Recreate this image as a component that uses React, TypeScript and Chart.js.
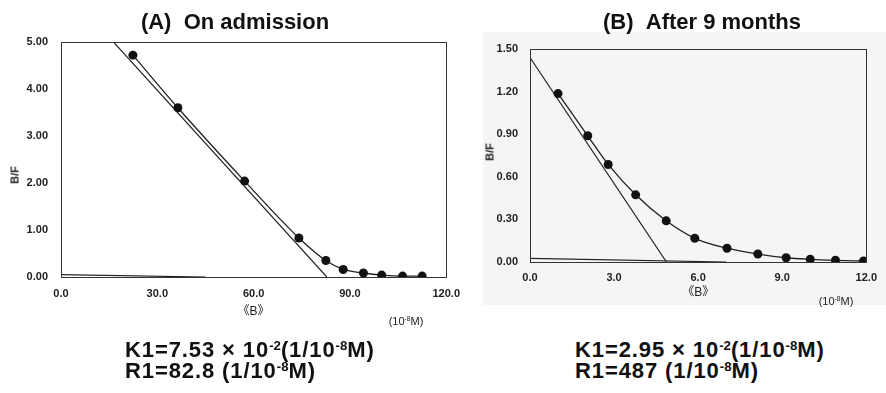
import React, { useEffect, useRef } from "react";
import { Chart, registerables } from "chart.js";
Chart.register(...registerables);

// ---- Panel A: On admission ----
const bA = [22.4, 36.4, 57.2, 74.1, 82.5, 87.9, 94.2, 99.9, 106.4, 112.5];
const bfA = [4.72, 3.6, 2.04, 0.83, 0.35, 0.16, 0.085, 0.04, 0.02, 0.02];
const fitA1X = [0, 82.8];
const fitA1Y = [6.23, 0];
const fitA2X = [0, 45];
const fitA2Y = [0.05, 0];
const xTicksA = [0, 30, 60, 90, 120];
const yTicksA = [0, 1, 2, 3, 4, 5];

// ---- Panel B: After 9 months ----
const bB = [1.0, 2.06, 2.79, 3.77, 4.86, 5.88, 7.03, 8.13, 9.14, 10.0, 10.9, 11.9];
const bfB = [1.186, 0.889, 0.687, 0.473, 0.29, 0.167, 0.097, 0.056, 0.03, 0.019, 0.012, 0.007];
const fitB1X = [0, 4.87];
const fitB1Y = [1.44, 0];
const fitB2X = [0, 7];
const fitB2Y = [0.026, 0];
const xTicksB = [0, 3, 6, 9, 12];
const yTicksB = [0, 0.3, 0.6, 0.9, 1.2, 1.5];

const pts = (xs: number[], ys: number[]) => xs.map((x, i) => ({ x, y: ys[i] }));

const INK = "#222";

const framePlugin = {
  id: "frame",
  afterDraw(chart: any) {
    const { ctx, chartArea } = chart;
    const l = Math.round(chartArea.left) + 0.5;
    const t = Math.round(chartArea.top) + 0.5;
    const r = Math.round(chartArea.right) + 0.5;
    const b = Math.round(chartArea.bottom) + 0.5;
    ctx.save();
    ctx.strokeStyle = "#333";
    ctx.lineWidth = 1;
    ctx.strokeRect(l, t, r - l, b - t);
    ctx.restore();
  },
};

type P = {
  bx: number[]; by: number[];
  f1x: number[]; f1y: number[];
  f2x: number[]; f2y: number[];
  xt: number[]; yt: number[];
  xmax: number; ymax: number;
  xdec: number;
  yW: number; xH: number;
  pad: { left: number; top: number; right: number; bottom: number };
  xTitlePad: number;
  yTickPad: number; xTickPad: number;
};

function makeConfig(p: P): any {
  const tickFont = { family: "Arial, 'Liberation Sans', sans-serif", size: 11, weight: "bold" as const };
  return {
    type: "scatter",
    data: {
      datasets: [
        {
          data: pts(p.bx, p.by),
          showLine: true,
          borderColor: INK,
          backgroundColor: "#111",
          borderWidth: 1.3,
          pointRadius: 4.5,
          pointBorderWidth: 0,
          cubicInterpolationMode: "monotone",
        },
        {
          data: pts(p.f1x, p.f1y),
          showLine: true,
          borderColor: INK,
          borderWidth: 1.2,
          pointRadius: 0,
        },
        {
          data: pts(p.f2x, p.f2y),
          showLine: true,
          borderColor: INK,
          borderWidth: 1.2,
          pointRadius: 0,
        },
      ],
    },
    options: {
      responsive: false,
      animation: false,
      devicePixelRatio: 1,
      layout: { padding: p.pad },
      plugins: { legend: { display: false }, tooltip: { enabled: false }, title: { display: false } },
      scales: {
        x: {
          type: "linear",
          min: 0,
          max: p.xmax,
          afterBuildTicks: (s: any) => { s.ticks = p.xt.map((v) => ({ value: v })); },
          afterFit: (s: any) => { s.height = p.xH; },
          grid: { display: false, drawTicks: false },
          border: { display: true, color: "#333", width: 1 },
          ticks: {
            color: INK,
            font: tickFont,
            padding: p.xTickPad,
            maxRotation: 0,
            autoSkip: false,
            callback: (v: any) => Number(v).toFixed(p.xdec),
          },
          title: {
            display: true,
            text: "《B》",
            color: INK,
            font: { family: "Arial, 'Noto Sans CJK JP', sans-serif", size: 12 },
            padding: { top: 0, bottom: p.xTitlePad },
          },
        },
        y: {
          type: "linear",
          min: 0,
          max: p.ymax,
          afterBuildTicks: (s: any) => { s.ticks = p.yt.map((v) => ({ value: v })); },
          afterFit: (s: any) => { s.width = p.yW; },
          grid: { display: false, drawTicks: false },
          border: { display: true, color: "#333", width: 1 },
          ticks: {
            color: INK,
            font: tickFont,
            padding: p.yTickPad,
            autoSkip: false,
            callback: (v: any) => Number(v).toFixed(2),
          },
          title: { display: false },
        },
      },
    },
    plugins: [framePlugin],
  };
}

function ChartCanvas({ cfg, left, top, width, height }: { cfg: any; left: number; top: number; width: number; height: number }) {
  const ref = useRef<HTMLCanvasElement | null>(null);
  useEffect(() => {
    if (!ref.current) return;
    const chart = new Chart(ref.current, cfg);
    return () => chart.destroy();
  }, []);
  return (
    <canvas
      ref={ref}
      width={width}
      height={height}
      style={{ position: "absolute", left, top, width, height }}
    />
  );
}

const cfgA = makeConfig({
  bx: bA, by: bfA, f1x: fitA1X, f1y: fitA1Y, f2x: fitA2X, f2y: fitA2Y,
  xt: xTicksA, yt: yTicksA, xmax: 120, ymax: 5, xdec: 1,
  yW: 61, xH: 53,
  pad: { left: 0, top: 42, right: 19, bottom: 0 },
  xTitlePad: 11, yTickPad: 13, xTickPad: 10,
});

const cfgB = makeConfig({
  bx: bB, by: bfB, f1x: fitB1X, f1y: fitB1Y, f2x: fitB2X, f2y: fitB2Y,
  xt: xTicksB, yt: yTicksB, xmax: 12, ymax: 1.5, xdec: 1,
  yW: 60, xH: 68,
  pad: { left: 0, top: 49, right: 6, bottom: 0 },
  xTitlePad: 30, yTickPad: 12, xTickPad: 9,
});

const titleStyle: React.CSSProperties = {
  position: "absolute",
  fontFamily: "Arial, 'Liberation Sans', sans-serif",
  fontWeight: "bold",
  fontSize: 22,
  lineHeight: "22px",
  color: "#111",
  whiteSpace: "nowrap",
  transform: "translateX(-50%)",
};

const formulaStyle: React.CSSProperties = {
  position: "absolute",
  fontFamily: "Arial, 'Liberation Sans', sans-serif",
  fontWeight: "bold",
  fontSize: 22,
  lineHeight: "22px",
  letterSpacing: "0.9px",
  color: "#111",
  whiteSpace: "nowrap",
};

const unitStyle: React.CSSProperties = {
  position: "absolute",
  fontFamily: "Arial, 'Liberation Sans', sans-serif",
  fontSize: 11,
  lineHeight: "11px",
  color: "#222",
  whiteSpace: "nowrap",
  transform: "translateX(-50%)",
};

const yLabelStyle: React.CSSProperties = {
  position: "absolute",
  fontFamily: "Arial, 'Liberation Sans', sans-serif",
  fontWeight: "bold",
  fontSize: 11,
  lineHeight: "11px",
  color: "#222",
  whiteSpace: "nowrap",
  transform: "translate(-50%, -50%) rotate(-90deg)",
};

const supStyle: React.CSSProperties = { fontSize: "0.6em", verticalAlign: "0.55em", lineHeight: 0, letterSpacing: 0 };

export default function App() {
  return (
    <div style={{ position: "fixed", left: 0, top: 0, width: 886, height: 393, background: "#fff", overflow: "hidden" }}>
      <div style={{ position: "absolute", left: 483, top: 32, width: 403, height: 273, background: "#f5f5f5" }} />
      <ChartCanvas cfg={cfgA} left={0} top={0} width={470} height={330} />
      <ChartCanvas cfg={cfgB} left={470} top={0} width={416} height={330} />

      <div style={{ ...yLabelStyle, left: 15, top: 175 }}>B/F</div>
      <div style={{ ...yLabelStyle, left: 490, top: 152 }}>B/F</div>

      <div style={{ ...titleStyle, left: 235, top: 11 }}>(A)&nbsp;&nbsp;On admission</div>
      <div style={{ ...titleStyle, left: 702, top: 11 }}>(B)&nbsp;&nbsp;After 9 months</div>

      <div style={{ ...unitStyle, left: 406, top: 316 }}>(10<span style={supStyle}>-8</span>M)</div>
      <div style={{ ...unitStyle, left: 836, top: 296 }}>(10<span style={supStyle}>-8</span>M)</div>

      <div style={{ ...formulaStyle, left: 125, top: 339 }}>
        K1=7.53 × 10<span style={supStyle}>-2</span>(1/10<span style={supStyle}>-8</span>M)
      </div>
      <div style={{ ...formulaStyle, left: 125, top: 360 }}>
        R1=82.8 (1/10<span style={supStyle}>-8</span>M)
      </div>
      <div style={{ ...formulaStyle, left: 575, top: 339 }}>
        K1=2.95 × 10<span style={supStyle}>-2</span>(1/10<span style={supStyle}>-8</span>M)
      </div>
      <div style={{ ...formulaStyle, left: 575, top: 360 }}>
        R1=487 (1/10<span style={supStyle}>-8</span>M)
      </div>
    </div>
  );
}
